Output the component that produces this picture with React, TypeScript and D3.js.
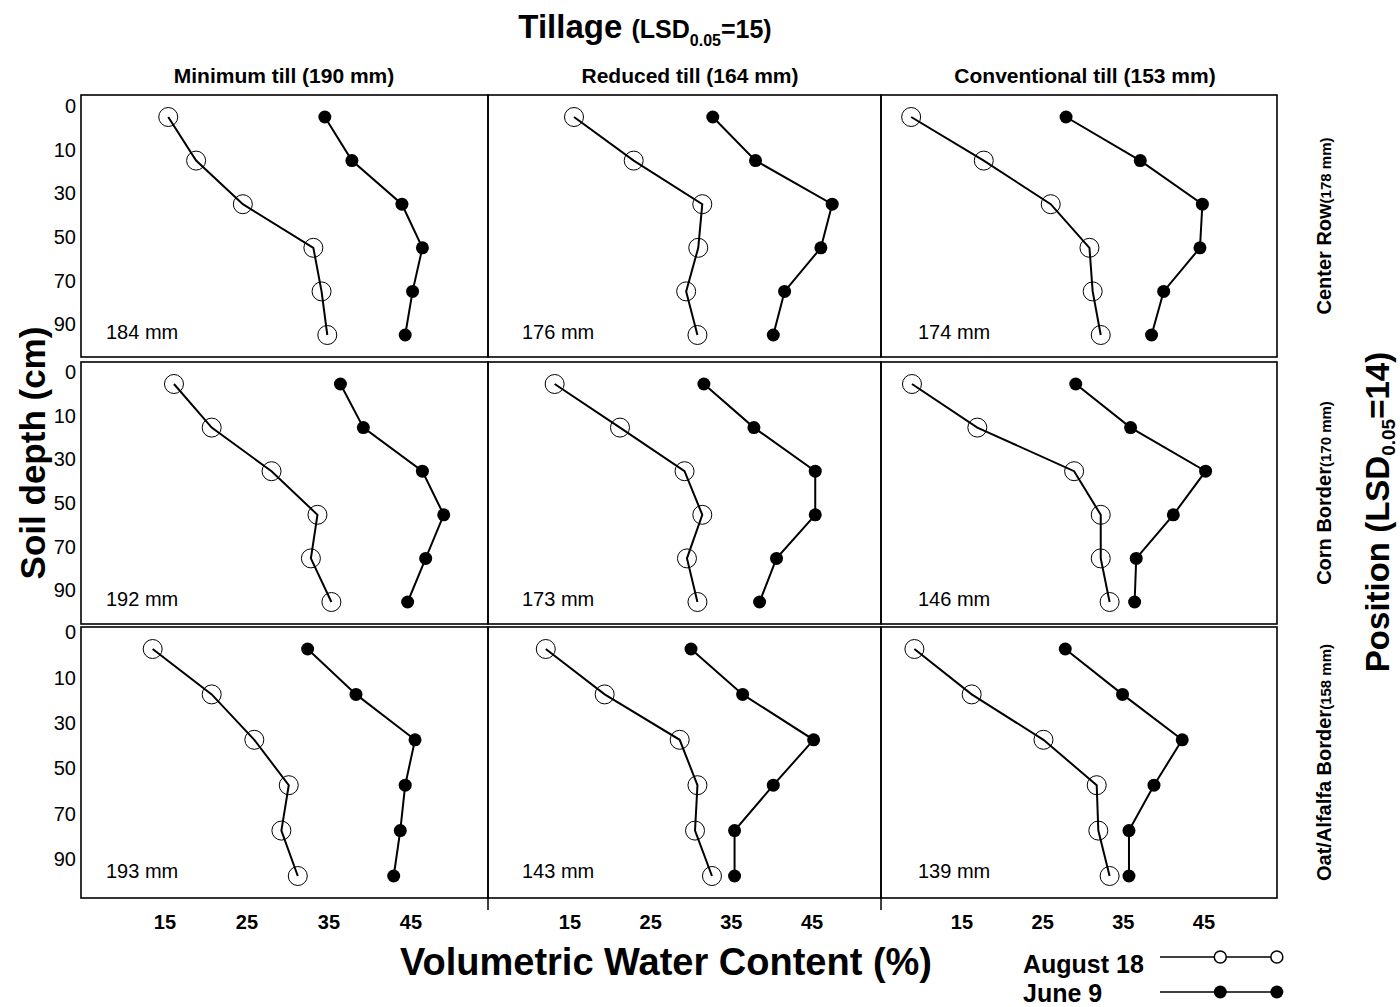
import React from "react";
import * as d3 from "d3";

// ---------- data ----------
const depthLabels = ["0", "10", "30", "50", "70", "90"];
const xTickValues = [15, 25, 35, 45];
const tillageNames = ["Minimum till (190 mm)", "Reduced till (164 mm)", "Conventional till (153 mm)"];
const positionNames = ["Center Row", "Corn Border", "Oat/Alfalfa Border"];
const positionTotals = ["(178 mm)", "(170 mm)", "(158 mm)"];
const panelTotals = [
  ["184 mm", "176 mm", "174 mm"],
  ["192 mm", "173 mm", "146 mm"],
  ["193 mm", "143 mm", "139 mm"],
];

// August 18 (open circles): one list per tillage column, depth order 0..90
const aug18CenterRow = [
  [15.4, 18.8, 24.5, 33.1, 34.1, 34.8],
  [15.5, 22.9, 31.4, 30.9, 29.4, 30.8],
  [8.7, 17.7, 26.0, 30.8, 31.2, 32.2],
];
const aug18CornBorder = [
  [16.1, 20.7, 28.0, 33.6, 32.8, 35.3],
  [13.1, 21.2, 29.2, 31.4, 29.5, 30.8],
  [8.8, 16.9, 28.9, 32.2, 32.2, 33.3],
];
const aug18OatAlfalfaBorder = [
  [13.5, 20.7, 25.9, 30.1, 29.2, 31.2],
  [12.0, 19.3, 28.6, 30.8, 30.5, 32.6],
  [9.1, 16.2, 25.1, 31.7, 31.9, 33.3],
];
// June 9 (filled circles)
const jun9CenterRow = [
  [34.5, 37.8, 43.9, 46.4, 45.2, 44.3],
  [32.7, 38.0, 47.5, 46.1, 41.6, 40.2],
  [27.9, 37.1, 44.8, 44.5, 40.0, 38.5],
];
const jun9CornBorder = [
  [36.4, 39.2, 46.4, 49.0, 46.8, 44.6],
  [31.6, 37.8, 45.4, 45.4, 40.6, 38.5],
  [29.1, 35.9, 45.2, 41.2, 36.6, 36.4],
];
const jun9OatAlfalfaBorder = [
  [32.4, 38.3, 45.5, 44.3, 43.7, 42.9],
  [30.0, 36.4, 45.2, 40.2, 35.4, 35.4],
  [27.8, 34.9, 42.3, 38.8, 35.7, 35.7],
];

const aug18Rows = [aug18CenterRow, aug18CornBorder, aug18OatAlfalfaBorder];
const jun9Rows = [jun9CenterRow, jun9CornBorder, jun9OatAlfalfaBorder];

// x-axis limits of each column (scanned panels differ slightly)
const xDomains: [number, number][] = [
  [4.76, 54.4],
  [4.84, 53.55],
  [4.96, 54.05],
];

// ---------- layout ----------
const W = 1400;
const H = 1007;
const FONT = "'Liberation Sans', Arial, Helvetica, sans-serif";
const colEdges = [81, 488, 881, 1277];
const rowEdges: [number, number][] = [
  [95, 357],
  [362, 624],
  [627, 898],
];
const tickLabelOffset = [9, 10, 15];
const totalLabelDx = [25, 34, 37];
const totalLabelDy = [-1, -1, -3];

export default function App() {
  const line = (xs: d3.ScaleLinear<number, number>, ys: d3.ScalePoint<string>) =>
    d3
      .line<number>()
      .x((v) => xs(v))
      .y((_, i) => ys(depthLabels[i]) as number);

  const panels: React.ReactNode[] = [];
  rowEdges.forEach(([top, bottom], r) => {
    const ys = d3.scalePoint<string>().domain(depthLabels).range([top + 22, bottom - 22]);
    colEdges.slice(0, 3).forEach((left, c) => {
      const right = colEdges[c + 1];
      const xs = d3.scaleLinear().domain(xDomains[c]).range([left, right]);
      const aug = aug18Rows[r][c];
      const jun = jun9Rows[r][c];
      const gen = line(xs, ys);
      panels.push(
        <g key={`p${r}${c}`}>
          <rect x={left} y={top} width={right - left} height={bottom - top} fill="none" stroke="#000" strokeWidth={1.6} />
          <path d={gen(aug) || ""} fill="none" stroke="#000" strokeWidth={2} />
          <path d={gen(jun) || ""} fill="none" stroke="#000" strokeWidth={2} />
          {aug.map((v, i) => (
            <circle key={`a${i}`} cx={xs(v)} cy={ys(depthLabels[i])} r={9.5} fill="none" stroke="#000" strokeWidth={1} />
          ))}
          {jun.map((v, i) => (
            <circle key={`j${i}`} cx={xs(v)} cy={ys(depthLabels[i])} r={6.5} fill="#000" />
          ))}
          <text
            x={left + totalLabelDx[c]}
            y={(ys(depthLabels[5]) as number) + totalLabelDy[r]}
            fontSize={20}
            fontFamily={FONT}
            dominantBaseline="middle"
          >
            {panelTotals[r][c]}
          </text>
        </g>
      );
    });
    // y tick labels
    panels.push(
      <g key={`yt${r}`}>
        {depthLabels.map((d) => (
          <text
            key={d}
            x={76}
            y={(ys(d) as number) - tickLabelOffset[r]}
            textAnchor="end"
            dominantBaseline="middle"
            fontSize={20}
            fontFamily={FONT}
          >
            {d}
          </text>
        ))}
      </g>
    );
    // position label on right
    const cy = (top + bottom) / 2;
    panels.push(
      <text
        key={`pos${r}`}
        transform={`translate(1331, ${cy}) rotate(-90)`}
        textAnchor="middle"
        fontFamily={FONT}
        fontWeight="bold"
      >
        <tspan fontSize={20}>{positionNames[r]}</tspan>
        <tspan fontSize={15}>{positionTotals[r]}</tspan>
      </text>
    );
  });

  // x ticks (bottom row)
  const xTickEls: React.ReactNode[] = [];
  colEdges.slice(0, 3).forEach((left, c) => {
    const xs = d3.scaleLinear().domain(xDomains[c]).range([left, colEdges[c + 1]]);
    xTickValues.forEach((t) => {
      xTickEls.push(
        <text
          key={`xt${c}${t}`}
          x={xs(t)}
          y={924}
          textAnchor="middle"
          dominantBaseline="middle"
          fontSize={20}
          fontWeight="bold"
          fontFamily={FONT}
        >
          {t}
        </text>
      );
    });
  });

  const legendX = d3.scaleLinear().domain([0, 1]).range([1160, 1283]);

  return (
    <svg
      width={W}
      height={H}
      viewBox={`0 0 ${W} ${H}`}
      style={{ position: "absolute", left: 0, top: 0, display: "block", background: "#fff" }}
    >
      <rect width={W} height={H} fill="#fff" />
      {/* title */}
      <text x={645} y={38} textAnchor="middle" fontFamily={FONT} fontWeight="bold">
        <tspan fontSize={33}>Tillage </tspan>
        <tspan fontSize={25}>(LSD</tspan>
        <tspan fontSize={16} dy={8}>0.05</tspan>
        <tspan fontSize={25} dy={-8}>=15)</tspan>
      </text>
      {/* column headers */}
      {tillageNames.map((n, c) => (
        <text
          key={n}
          x={[284, 690, 1085][c]}
          y={77}
          textAnchor="middle"
          dominantBaseline="middle"
          fontSize={21}
          fontWeight="bold"
          fontFamily={FONT}
        >
          {n}
        </text>
      ))}
      {panels}
      {/* divider extensions below bottom */}
      {[colEdges[1], colEdges[2]].map((x) => (
        <line key={`ext${x}`} x1={x} x2={x} y1={898} y2={910} stroke="#000" strokeWidth={1.5} />
      ))}
      {xTickEls}
      {/* axis titles */}
      <text x={666} y={975} textAnchor="middle" fontSize={38} fontWeight="bold" fontFamily={FONT}>
        Volumetric Water Content (%)
      </text>
      <text
        transform="translate(45, 453) rotate(-90)"
        textAnchor="middle"
        fontSize={35}
        fontWeight="bold"
        fontFamily={FONT}
      >
        Soil depth (cm)
      </text>
      <text transform="translate(1389, 512) rotate(-90)" textAnchor="middle" fontFamily={FONT} fontWeight="bold">
        <tspan fontSize={33}>Position (LSD</tspan>
        <tspan fontSize={19} dy={6}>0.05</tspan>
        <tspan fontSize={33} dy={-6}>=14)</tspan>
      </text>
      {/* legend */}
      <g fontFamily={FONT} fontWeight="bold" fontSize={25}>
        <text x={1023} y={973}>August 18</text>
        <text x={1023} y={1002}>June 9</text>
        <line x1={legendX(0)} x2={legendX(1)} y1={957} y2={957} stroke="#000" strokeWidth={1.5} />
        <line x1={legendX(0)} x2={legendX(1)} y1={992} y2={992} stroke="#000" strokeWidth={1.5} />
        {[0.49, 0.95].map((t) => (
          <circle key={`la${t}`} cx={legendX(t)} cy={957} r={6} fill="#fff" stroke="#000" strokeWidth={1.5} />
        ))}
        {[0.49, 0.95].map((t) => (
          <circle key={`lj${t}`} cx={legendX(t)} cy={992} r={6.5} fill="#000" />
        ))}
      </g>
    </svg>
  );
}
